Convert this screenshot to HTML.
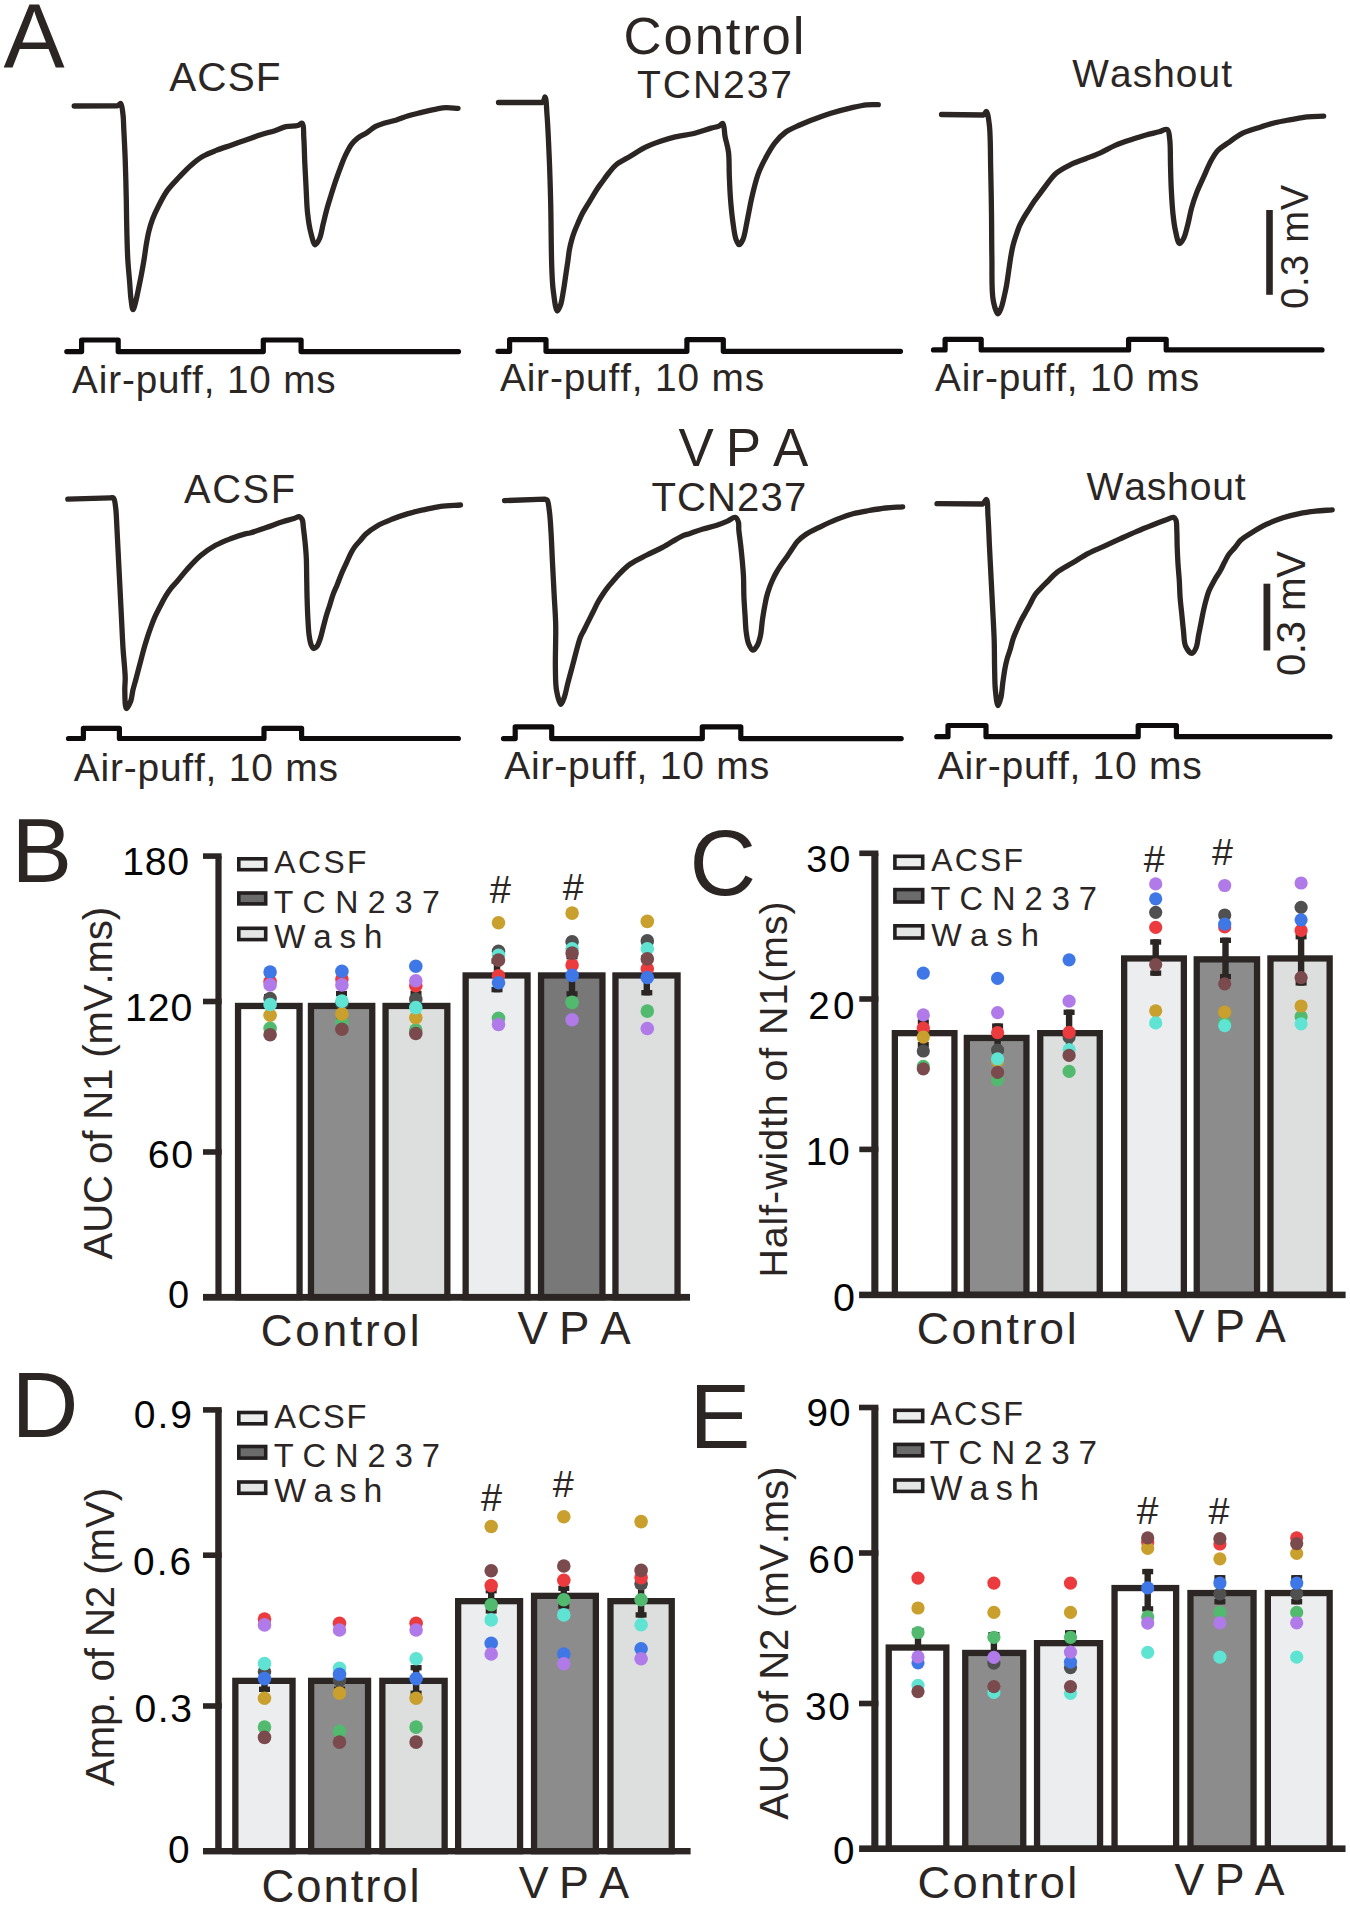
<!DOCTYPE html>
<html><head><meta charset="utf-8"><title>Figure</title>
<style>
html,body{margin:0;padding:0;background:#ffffff;}
svg{display:block;}
text{font-family:"Liberation Sans",sans-serif;font-kerning:none;}
</style></head><body>
<svg width="1350" height="1906" viewBox="0 0 1350 1906">
<rect width="1350" height="1906" fill="#ffffff"/>
<text x="3.52" y="67.00" font-size="91.72" letter-spacing="0.000" fill="#2b2624" >A</text>
<text x="623.62" y="54.30" font-size="52.70" letter-spacing="1.834" fill="#2b2624" >Control</text>
<text x="637.12" y="97.90" font-size="39.10" letter-spacing="1.871" fill="#2b2624" >TCN237</text>
<text x="169.22" y="90.80" font-size="40.53" letter-spacing="1.103" fill="#2b2624" >ACSF</text>
<text x="1072.23" y="87.30" font-size="38.81" letter-spacing="1.117" fill="#2b2624" >Washout</text>
<text x="678.47" y="466.00" font-size="52.91" letter-spacing="12.034" fill="#2b2624" >VPA</text>
<text x="183.92" y="502.90" font-size="39.81" letter-spacing="1.696" fill="#2b2624" >ACSF</text>
<text x="651.40" y="510.70" font-size="40.10" letter-spacing="1.119" fill="#2b2624" >TCN237</text>
<text x="1086.53" y="499.90" font-size="39.10" letter-spacing="0.810" fill="#2b2624" >Washout</text>
<text x="72.12" y="393.30" font-size="38.67" letter-spacing="0.875" fill="#2b2624" >Air-puff, 10 ms</text>
<text x="499.92" y="391.00" font-size="38.81" letter-spacing="0.859" fill="#2b2624" >Air-puff, 10 ms</text>
<text x="934.92" y="391.00" font-size="38.81" letter-spacing="0.859" fill="#2b2624" >Air-puff, 10 ms</text>
<text x="73.72" y="780.60" font-size="38.95" letter-spacing="0.793" fill="#2b2624" >Air-puff, 10 ms</text>
<text x="504.22" y="779.40" font-size="39.10" letter-spacing="0.777" fill="#2b2624" >Air-puff, 10 ms</text>
<text x="937.82" y="779.40" font-size="39.10" letter-spacing="0.712" fill="#2b2624" >Air-puff, 10 ms</text>
<path d="M66.8,351.6 H81.6 V340 H118.2 V351.6 H263.3 V340 H301.1 V351.6 H458.5" fill="none" stroke="#0d0b0b" stroke-width="5.2" stroke-linejoin="round" stroke-linecap="round"/>
<path d="M498,351.3 H509.6 V339.6 H546 V351.3 H686.9 V339.6 H723.3 V351.3 H900.5" fill="none" stroke="#0d0b0b" stroke-width="5.2" stroke-linejoin="round" stroke-linecap="round"/>
<path d="M933.5,349.9 H945.1 V339.3 H981.2 V349.9 H1128.6 V339.3 H1166.2 V349.9 H1322" fill="none" stroke="#0d0b0b" stroke-width="5.2" stroke-linejoin="round" stroke-linecap="round"/>
<path d="M68.5,738.5 H83.4 V728.3 H119.4 V738.5 H264 V728.3 H301.6 V738.5 H458.4" fill="none" stroke="#0d0b0b" stroke-width="5.2" stroke-linejoin="round" stroke-linecap="round"/>
<path d="M503.5,738.6 H515.2 V726.8 H551.7 V738.6 H702.3 V726.8 H740.8 V738.6 H901.2" fill="none" stroke="#0d0b0b" stroke-width="5.2" stroke-linejoin="round" stroke-linecap="round"/>
<path d="M936.8,736.7 H948 V725.5 H986 V736.7 H1138.2 V725.5 H1176.4 V736.7 H1330" fill="none" stroke="#0d0b0b" stroke-width="5.2" stroke-linejoin="round" stroke-linecap="round"/>
<path d="M74.20,106.00 L117.50,105.80 C119.33,105.21 119.86,103.17 120.70,103.50 C122.12,104.05 122.48,110.61 123.00,114.60 C123.59,119.16 123.51,123.61 123.80,129.40 C124.22,137.63 124.80,148.56 125.20,159.30 C125.66,171.82 126.03,187.51 126.30,200.00 C126.53,210.65 126.55,219.73 126.80,229.60 C127.05,239.49 127.27,250.12 127.80,259.30 C128.26,267.24 129.03,274.44 129.60,281.50 C130.12,287.95 130.38,294.85 131.10,300.00 C131.62,303.74 132.19,309.54 133.00,309.60 C133.73,309.65 134.79,305.05 135.60,302.20 C136.67,298.44 137.54,293.46 138.50,288.90 C139.51,284.08 140.56,278.96 141.50,274.00 C142.43,269.09 143.30,264.22 144.10,259.30 C144.90,254.36 145.47,249.22 146.30,244.40 C147.08,239.83 147.82,235.40 148.90,231.10 C149.94,226.94 151.07,223.06 152.60,219.00 C154.23,214.69 156.21,210.48 158.50,206.00 C161.06,200.98 163.93,195.24 167.40,190.40 C170.87,185.57 175.28,181.27 179.30,177.00 C183.18,172.88 187.03,168.73 191.10,165.20 C194.94,161.87 198.78,158.77 203.00,156.30 C207.18,153.85 211.71,152.22 216.30,150.40 C221.07,148.51 226.17,146.93 231.10,145.20 C236.03,143.47 240.97,141.73 245.90,140.00 C250.83,138.27 255.74,136.40 260.70,134.80 C265.64,133.20 271.11,131.87 275.60,130.40 C279.37,129.17 282.29,127.52 285.90,126.70 C289.67,125.85 294.83,126.35 297.80,125.50 C299.72,124.95 301.25,122.72 302.30,123.30 C304.10,124.30 303.41,132.30 303.80,137.80 C304.32,145.04 304.42,154.60 304.80,163.00 C305.18,171.40 305.63,179.80 306.10,188.20 C306.57,196.60 306.73,205.64 307.60,213.40 C308.35,220.15 309.25,226.62 310.70,232.20 C311.91,236.88 313.45,244.57 315.20,244.80 C316.52,244.98 318.38,241.19 319.60,238.50 C321.33,234.67 322.05,228.43 323.30,223.40 C324.55,218.36 325.78,213.09 327.10,208.30 C328.32,203.90 329.57,199.99 330.90,195.70 C332.30,191.20 333.74,186.49 335.30,181.90 C336.87,177.26 338.58,172.50 340.30,168.00 C341.95,163.68 343.47,159.43 345.40,155.40 C347.28,151.47 349.36,147.19 351.70,144.10 C353.64,141.53 355.59,139.65 358.00,137.80 C360.58,135.82 363.91,134.57 366.80,132.70 C369.78,130.78 372.44,128.07 375.60,126.40 C378.75,124.74 382.30,123.74 385.70,122.70 C389.04,121.68 392.28,121.26 395.80,120.20 C399.80,118.99 404.18,116.97 408.40,115.70 C412.54,114.45 416.45,113.67 420.90,112.60 C425.99,111.38 432.66,109.65 437.30,108.80 C440.67,108.18 442.93,107.71 446.10,107.60 C449.78,107.47 454.10,108.13 458.10,108.40" fill="none" stroke="#2b2624" stroke-width="5.3" stroke-linejoin="round" stroke-linecap="round"/>
<path d="M498.50,102.50 L542.30,102.50 C544.47,101.17 544.37,96.87 545.10,97.00 C546.33,97.23 546.42,107.39 547.00,114.60 C547.91,126.04 548.68,144.27 549.30,159.10 C549.92,173.91 550.31,187.31 550.70,203.50 C551.17,223.04 551.16,252.32 551.80,268.20 C552.17,277.47 552.27,283.00 553.20,290.20 C554.12,297.26 555.58,310.74 557.30,311.00 C558.28,311.15 559.68,307.46 560.60,304.90 C561.95,301.14 562.65,295.11 563.50,290.20 C564.35,285.31 564.97,280.40 565.70,275.50 C566.43,270.60 567.25,265.35 567.90,260.80 C568.46,256.87 568.76,253.33 569.40,249.80 C570.01,246.48 570.73,243.31 571.60,240.20 C572.44,237.18 573.41,234.31 574.50,231.40 C575.61,228.44 576.89,225.58 578.20,222.60 C579.58,219.48 581.05,216.03 582.60,213.10 C584.00,210.44 585.53,208.16 587.00,205.70 C588.46,203.26 589.82,201.00 591.40,198.40 C593.22,195.42 595.35,191.75 597.30,188.80 C599.04,186.17 600.73,183.94 602.50,181.50 C604.30,179.01 605.94,176.57 608.00,174.00 C610.34,171.09 612.60,167.76 615.90,165.00 C619.87,161.69 625.76,159.06 630.70,156.10 C635.66,153.13 640.54,149.70 645.60,147.20 C650.45,144.80 655.43,143.03 660.40,141.30 C665.30,139.60 669.84,138.21 675.20,136.90 C681.42,135.38 689.31,134.59 695.60,133.00 C701.17,131.59 706.80,129.33 711.10,128.10 C714.13,127.23 716.81,127.05 718.90,126.10 C720.50,125.37 721.81,122.99 722.80,123.40 C724.46,124.10 724.20,132.11 725.10,136.70 C726.08,141.68 727.78,146.47 728.50,152.20 C729.37,159.14 728.97,167.73 729.30,175.50 C729.63,183.29 729.90,191.12 730.50,198.90 C731.10,206.68 731.89,215.05 732.90,222.20 C733.77,228.36 734.53,235.28 736.00,239.30 C736.88,241.70 737.96,244.64 739.10,244.70 C740.28,244.76 741.89,241.75 743.00,239.30 C744.80,235.32 745.59,228.35 746.90,222.20 C748.42,215.04 749.86,206.22 751.50,198.90 C752.98,192.30 754.70,185.33 756.20,180.20 C757.27,176.54 757.87,174.34 759.30,170.90 C761.20,166.31 764.38,160.14 767.10,155.30 C769.60,150.86 771.84,146.74 774.90,142.90 C778.04,138.96 781.67,134.98 785.80,132.00 C789.96,129.00 794.97,127.17 799.80,125.00 C804.79,122.76 810.10,120.75 815.30,118.80 C820.47,116.85 825.33,115.02 830.90,113.30 C837.16,111.36 844.79,109.37 851.10,107.90 C856.59,106.62 861.77,105.32 866.60,104.80 C870.75,104.35 874.40,104.67 878.30,104.60" fill="none" stroke="#2b2624" stroke-width="5.3" stroke-linejoin="round" stroke-linecap="round"/>
<path d="M941.50,114.50 L983.30,115.00 C985.20,114.14 985.45,111.29 986.30,111.50 C987.75,111.86 988.56,118.89 989.30,124.60 C990.64,134.99 990.33,154.27 990.70,169.10 C991.07,183.91 991.30,198.69 991.50,213.50 C991.70,228.32 991.61,243.37 991.90,258.00 C992.18,272.25 991.31,290.12 993.20,300.20 C994.30,306.09 996.41,313.68 998.00,313.80 C999.11,313.88 1000.35,310.03 1001.30,307.60 C1002.51,304.49 1003.33,300.20 1004.20,296.50 C1005.06,292.84 1005.79,289.44 1006.50,285.50 C1007.31,280.97 1007.97,275.70 1008.70,270.80 C1009.43,265.90 1010.11,260.64 1010.90,256.10 C1011.59,252.16 1012.22,248.61 1013.10,245.10 C1013.93,241.80 1014.93,238.82 1016.00,235.60 C1017.12,232.22 1018.28,228.48 1019.70,225.30 C1021.01,222.38 1022.53,219.88 1024.10,217.20 C1025.70,214.47 1027.49,211.80 1029.20,209.10 C1030.92,206.40 1032.70,203.46 1034.40,201.00 C1035.89,198.85 1037.26,197.16 1038.80,195.10 C1040.48,192.84 1041.95,190.76 1044.10,188.00 C1047.22,183.99 1051.36,177.44 1055.90,173.50 C1060.27,169.71 1065.65,167.10 1070.70,164.60 C1075.56,162.20 1080.64,160.67 1085.60,158.70 C1090.54,156.74 1095.51,154.99 1100.40,152.80 C1105.38,150.57 1109.97,147.62 1115.20,145.40 C1120.79,143.02 1127.50,140.93 1133.00,139.10 C1137.69,137.54 1141.72,136.22 1146.10,135.00 C1150.42,133.79 1155.27,132.81 1159.10,131.80 C1162.15,131.00 1165.52,128.47 1167.30,129.50 C1169.21,130.61 1169.14,135.08 1169.70,139.10 C1170.61,145.63 1170.23,156.65 1170.50,165.20 C1170.76,173.47 1170.88,181.46 1171.30,189.60 C1171.72,197.76 1172.21,206.78 1173.00,214.10 C1173.65,220.10 1174.24,225.31 1175.40,230.40 C1176.46,235.05 1177.76,243.16 1179.50,243.50 C1180.69,243.73 1182.42,240.71 1183.60,238.50 C1185.32,235.30 1186.34,230.20 1187.60,225.50 C1189.06,220.03 1190.12,213.24 1191.70,207.60 C1193.15,202.42 1194.72,197.76 1196.60,192.90 C1198.51,187.95 1200.79,183.33 1203.10,178.20 C1205.66,172.52 1208.53,165.29 1211.30,160.30 C1213.44,156.45 1215.12,153.33 1217.80,150.50 C1220.53,147.61 1223.97,145.77 1227.60,143.20 C1231.95,140.12 1237.02,135.99 1242.20,133.40 C1247.33,130.83 1253.05,129.47 1258.50,127.70 C1263.91,125.94 1269.33,124.15 1274.80,122.80 C1280.20,121.46 1285.66,120.60 1291.10,119.60 C1296.53,118.60 1301.95,117.37 1307.40,116.80 C1312.81,116.24 1318.27,116.40 1323.70,116.20" fill="none" stroke="#2b2624" stroke-width="5.3" stroke-linejoin="round" stroke-linecap="round"/>
<path d="M67.80,499.10 L110.40,497.80 C112.03,497.83 112.70,497.32 113.50,498.00 C114.90,499.19 115.06,503.44 115.60,507.20 C116.43,512.97 116.55,521.46 117.00,529.40 C117.52,538.58 118.00,549.21 118.50,559.10 C119.00,568.98 119.50,578.83 120.00,588.70 C120.50,598.57 121.00,608.42 121.50,618.30 C122.00,628.19 122.38,638.11 123.00,648.00 C123.62,657.88 125.03,669.81 125.20,677.60 C125.31,682.68 124.69,685.61 124.80,690.20 C124.94,695.74 124.82,708.15 126.30,708.50 C127.31,708.74 129.62,703.99 130.70,701.20 C131.94,698.00 132.04,693.85 132.90,690.20 C133.77,686.52 134.92,682.87 135.90,679.20 C136.88,675.54 137.84,671.88 138.80,668.20 C139.77,664.51 140.72,660.79 141.70,657.10 C142.68,653.42 143.68,649.62 144.70,646.10 C145.65,642.81 146.60,639.70 147.60,636.60 C148.57,633.60 149.46,630.89 150.60,627.80 C151.89,624.30 153.40,620.29 155.00,616.70 C156.57,613.19 158.38,609.84 160.10,606.50 C161.78,603.24 163.35,599.98 165.20,596.90 C167.02,593.85 169.04,590.76 171.10,588.10 C172.99,585.67 174.78,584.07 177.00,581.50 C180.01,578.02 183.63,573.17 187.40,569.00 C191.47,564.50 195.94,559.49 200.70,555.50 C205.35,551.61 210.51,548.13 215.60,545.30 C220.42,542.62 225.42,540.71 230.40,538.80 C235.29,536.92 241.60,534.83 245.20,533.90 C247.22,533.38 247.95,533.54 250.00,533.00 C253.85,532.00 260.87,529.36 266.30,527.50 C271.74,525.63 277.63,523.39 282.60,521.80 C286.72,520.48 290.93,519.49 294.00,518.50 C296.11,517.82 297.88,516.28 299.30,516.60 C300.52,516.87 301.52,518.13 302.20,519.50 C303.18,521.45 302.99,524.68 303.40,527.80 C303.92,531.82 304.53,536.81 305.00,541.60 C305.51,546.78 306.01,552.08 306.30,557.80 C306.62,564.20 306.57,571.41 306.70,578.20 C306.83,584.97 306.90,591.73 307.10,598.50 C307.30,605.27 307.54,612.41 307.90,618.80 C308.22,624.53 308.44,630.39 309.10,635.10 C309.61,638.77 310.09,642.40 311.10,644.80 C311.78,646.41 312.60,648.29 313.60,648.50 C314.52,648.70 315.86,647.58 316.80,646.50 C318.18,644.92 319.11,641.91 320.10,639.10 C321.33,635.60 322.22,631.04 323.30,627.00 C324.39,622.94 325.46,618.63 326.60,614.80 C327.63,611.34 328.74,608.33 329.80,605.00 C330.90,601.54 331.85,597.83 333.10,594.40 C334.32,591.06 335.80,588.13 337.20,584.70 C338.76,580.88 340.33,576.40 342.00,572.50 C343.57,568.82 345.34,565.28 346.90,561.90 C348.33,558.80 349.56,555.69 351.00,553.00 C352.27,550.62 353.45,548.60 355.00,546.50 C356.65,544.26 358.88,542.10 360.70,540.00 C362.40,538.04 363.48,536.25 365.60,534.30 C368.51,531.62 372.90,528.44 377.10,526.00 C381.58,523.40 386.73,521.34 391.80,519.30 C397.05,517.19 402.63,515.22 408.10,513.60 C413.50,512.00 418.95,510.82 424.40,509.60 C429.82,508.39 434.98,507.06 440.70,506.30 C446.95,505.47 453.90,505.43 460.50,505.00" fill="none" stroke="#2b2624" stroke-width="5.3" stroke-linejoin="round" stroke-linecap="round"/>
<path d="M504.50,500.60 L544.80,499.20 C546.07,499.39 546.46,499.27 547.10,500.00 C548.49,501.59 548.79,507.03 549.40,511.40 C550.21,517.18 550.52,524.21 551.00,531.70 C551.59,540.96 551.98,552.43 552.50,562.80 C553.02,573.17 553.57,583.53 554.10,593.90 C554.63,604.27 555.45,613.78 555.70,625.00 C555.99,638.22 555.14,656.21 555.40,668.20 C555.58,676.76 555.35,683.74 556.50,690.20 C557.44,695.49 559.39,704.18 560.90,704.30 C561.98,704.38 563.20,700.33 564.20,697.60 C565.63,693.71 566.71,687.45 567.90,682.90 C568.93,678.94 569.91,675.49 570.90,671.80 C571.88,668.13 572.83,664.47 573.80,660.80 C574.77,657.13 575.64,653.58 576.70,649.80 C577.83,645.76 578.99,640.86 580.40,637.30 C581.52,634.48 582.82,632.56 584.10,630.00 C585.51,627.18 587.03,624.06 588.50,621.10 C589.96,618.16 591.38,615.35 592.90,612.30 C594.54,609.00 596.28,605.10 598.00,602.00 C599.49,599.32 600.86,597.17 602.50,594.70 C604.27,592.04 606.45,588.95 608.30,586.60 C609.82,584.67 611.08,583.37 612.70,581.50 C614.70,579.19 616.80,576.44 619.40,573.80 C622.51,570.64 626.09,566.97 630.30,564.00 C635.08,560.62 641.38,557.83 646.90,555.00 C652.28,552.24 657.50,550.14 663.00,547.20 C669.04,543.97 676.52,538.61 681.60,536.30 C684.86,534.82 686.90,534.55 690.00,533.50 C693.87,532.19 698.63,530.34 703.00,529.00 C707.33,527.67 711.92,526.86 716.10,525.50 C720.07,524.21 724.10,522.59 727.50,521.10 C730.35,519.85 733.33,516.81 735.20,517.30 C736.73,517.70 737.77,520.14 738.40,522.00 C739.13,524.17 738.54,526.69 738.80,529.70 C739.17,534.02 740.12,540.16 740.70,545.40 C741.28,550.63 741.83,555.86 742.30,561.10 C742.77,566.36 743.23,571.35 743.50,576.90 C743.80,583.08 743.63,589.96 743.90,596.50 C744.17,603.06 744.70,610.00 745.10,616.20 C745.46,621.76 745.54,627.14 746.20,632.00 C746.78,636.24 747.25,640.57 748.60,643.80 C749.68,646.38 751.39,650.09 752.90,650.20 C754.30,650.30 756.11,647.35 757.30,645.30 C758.75,642.79 759.59,639.48 760.40,635.90 C761.42,631.38 761.70,625.07 762.40,620.20 C763.01,615.95 763.58,612.25 764.30,608.30 C765.02,604.35 765.81,600.01 766.70,596.50 C767.44,593.61 768.19,591.29 769.10,588.70 C770.02,586.06 771.05,583.41 772.20,580.80 C773.38,578.14 774.67,575.49 776.10,572.90 C777.56,570.26 779.14,567.74 780.90,565.10 C782.81,562.24 785.28,559.17 787.20,556.40 C788.91,553.93 790.25,551.71 791.90,549.30 C793.64,546.75 795.20,543.90 797.40,541.50 C799.75,538.94 802.40,536.72 805.70,534.50 C809.78,531.76 815.34,529.27 820.40,526.80 C825.66,524.23 831.22,521.60 836.70,519.40 C842.09,517.24 847.51,515.19 853.00,513.70 C858.38,512.24 863.86,511.45 869.30,510.50 C874.72,509.55 880.09,508.60 885.60,508.00 C891.22,507.39 897.00,507.27 902.70,506.90" fill="none" stroke="#2b2624" stroke-width="5.3" stroke-linejoin="round" stroke-linecap="round"/>
<path d="M937.00,503.70 L982.50,504.00 C984.91,502.91 985.47,499.20 986.40,499.50 C987.96,500.00 987.54,509.70 988.00,516.10 C988.63,524.85 988.98,536.83 989.50,547.20 C990.02,557.57 990.57,567.93 991.10,578.30 C991.63,588.67 992.18,599.03 992.70,609.40 C993.22,619.77 993.88,630.43 994.20,640.50 C994.50,650.00 994.38,659.50 994.60,668.20 C994.80,675.96 994.72,683.54 995.40,690.20 C995.97,695.81 996.88,705.50 998.00,705.60 C998.83,705.67 1000.14,700.72 1000.90,697.60 C1001.90,693.49 1002.12,687.80 1002.80,682.90 C1003.48,678.00 1004.17,672.57 1005.00,668.20 C1005.67,664.65 1006.33,661.71 1007.20,658.60 C1008.04,655.58 1009.16,652.91 1010.10,649.80 C1011.14,646.35 1011.94,642.23 1013.10,638.80 C1014.16,635.67 1015.41,632.98 1016.70,630.00 C1018.06,626.86 1019.56,623.44 1021.10,620.40 C1022.54,617.56 1024.11,615.00 1025.60,612.30 C1027.08,609.60 1028.48,607.01 1030.00,604.20 C1031.64,601.16 1033.15,597.48 1035.10,594.70 C1036.86,592.18 1038.95,590.27 1041.00,588.10 C1043.11,585.87 1045.19,583.89 1047.60,581.50 C1050.49,578.64 1053.42,575.02 1057.20,572.10 C1061.59,568.71 1067.53,565.91 1072.70,562.80 C1077.89,559.68 1083.03,556.17 1088.30,553.40 C1093.40,550.73 1098.58,548.79 1103.80,546.40 C1109.15,543.96 1114.58,541.37 1120.00,538.90 C1125.42,536.43 1130.85,533.92 1136.30,531.60 C1141.71,529.29 1147.46,527.01 1152.60,525.00 C1157.17,523.22 1161.81,521.47 1165.60,520.10 C1168.52,519.04 1171.61,516.97 1173.40,517.40 C1174.59,517.68 1175.31,518.70 1175.90,520.00 C1176.89,522.18 1176.59,526.37 1176.80,530.20 C1177.07,535.10 1177.00,541.40 1177.20,547.00 C1177.40,552.60 1177.65,558.20 1178.00,563.80 C1178.35,569.40 1178.95,575.00 1179.30,580.60 C1179.65,586.20 1179.68,591.81 1180.10,597.40 C1180.52,603.01 1181.23,608.60 1181.80,614.20 C1182.37,619.80 1182.85,625.56 1183.50,631.00 C1184.12,636.17 1183.82,642.17 1185.60,646.10 C1187.02,649.23 1190.05,653.47 1191.90,653.40 C1193.48,653.34 1195.03,650.12 1196.10,647.70 C1197.54,644.44 1197.77,639.30 1198.60,635.10 C1199.43,630.90 1200.27,626.69 1201.10,622.50 C1201.93,618.32 1202.72,613.94 1203.60,610.00 C1204.40,606.44 1205.21,603.10 1206.10,599.90 C1206.92,596.96 1207.66,594.10 1208.70,591.50 C1209.66,589.10 1210.80,587.09 1212.00,584.80 C1213.29,582.33 1214.77,579.63 1216.20,577.20 C1217.57,574.88 1219.06,572.89 1220.40,570.50 C1221.87,567.89 1223.17,564.82 1224.60,562.10 C1225.97,559.49 1227.13,556.87 1228.80,554.50 C1230.49,552.10 1232.77,550.12 1234.70,547.80 C1236.70,545.40 1238.18,542.58 1240.60,540.30 C1243.30,537.75 1246.66,535.86 1250.40,533.50 C1255.09,530.54 1261.17,526.86 1266.70,524.20 C1272.05,521.62 1277.51,519.48 1283.00,517.70 C1288.38,515.96 1293.84,514.69 1299.30,513.60 C1304.71,512.52 1310.13,511.83 1315.60,511.20 C1321.10,510.56 1326.67,510.27 1332.20,509.80" fill="none" stroke="#2b2624" stroke-width="5.3" stroke-linejoin="round" stroke-linecap="round"/>
<rect x="1266.2" y="210" width="6.6" height="84.80000000000001" fill="#2b2624"/>
<rect x="1263.5" y="583.7" width="6.8" height="66.79999999999995" fill="#2b2624"/>
<text transform="translate(1308.20,308.99) rotate(-90)" x="0" y="0" font-size="38.24" letter-spacing="0.604" fill="#2b2624" >0.3 mV</text>
<text transform="translate(1305.20,676.08) rotate(-90)" x="0" y="0" font-size="40.39" letter-spacing="-0.558" fill="#2b2624" >0.3 mV</text>
<rect x="238.05" y="1005.95" width="61.50" height="291.35" fill="#ffffff" stroke="#2b2624" stroke-width="6.3"/>
<rect x="310.95" y="1005.95" width="61.30" height="291.35" fill="#8c8c8c" stroke="#2b2624" stroke-width="6.3"/>
<rect x="385.55" y="1005.95" width="61.80" height="291.35" fill="#dddfde" stroke="#2b2624" stroke-width="6.3"/>
<rect x="465.65" y="975.45" width="61.90" height="321.85" fill="#ecedef" stroke="#2b2624" stroke-width="6.3"/>
<rect x="541.05" y="975.45" width="61.40" height="321.85" fill="#787878" stroke="#2b2624" stroke-width="6.3"/>
<rect x="615.45" y="975.45" width="62.10" height="321.85" fill="#dddfde" stroke="#2b2624" stroke-width="6.3"/>
<rect x="215.4" y="856.1" width="6.20" height="441.20" fill="#2b2624"/>
<rect x="203" y="1293.90" width="487.00" height="6.8" fill="#2b2624"/>
<rect x="203" y="853.30" width="18.60" height="5.6" fill="#2b2624"/>
<rect x="203" y="998.70" width="18.60" height="5.6" fill="#2b2624"/>
<rect x="203" y="1149.20" width="18.60" height="5.6" fill="#2b2624"/>
<rect x="266.30" y="994.00" width="6.4" height="24.00" fill="#2b2624"/>
<rect x="264.00" y="994.00" width="11" height="5.4" fill="#2b2624"/>
<rect x="264.00" y="1012.60" width="11" height="5.4" fill="#2b2624"/>
<rect x="338.30" y="990.90" width="6.4" height="29.80" fill="#2b2624"/>
<rect x="336.00" y="990.90" width="11" height="5.4" fill="#2b2624"/>
<rect x="336.00" y="1015.30" width="11" height="5.4" fill="#2b2624"/>
<rect x="412.80" y="990.90" width="6.4" height="29.80" fill="#2b2624"/>
<rect x="410.50" y="990.90" width="11" height="5.4" fill="#2b2624"/>
<rect x="410.50" y="1015.30" width="11" height="5.4" fill="#2b2624"/>
<rect x="493.80" y="958.30" width="6.4" height="34.00" fill="#2b2624"/>
<rect x="491.50" y="958.30" width="11" height="5.4" fill="#2b2624"/>
<rect x="491.50" y="986.90" width="11" height="5.4" fill="#2b2624"/>
<rect x="568.80" y="954.00" width="6.4" height="42.60" fill="#2b2624"/>
<rect x="566.50" y="954.00" width="11" height="5.4" fill="#2b2624"/>
<rect x="566.50" y="991.20" width="11" height="5.4" fill="#2b2624"/>
<rect x="643.60" y="955.00" width="6.4" height="40.40" fill="#2b2624"/>
<rect x="641.30" y="955.00" width="11" height="5.4" fill="#2b2624"/>
<rect x="641.30" y="990.00" width="11" height="5.4" fill="#2b2624"/>
<circle cx="270.1" cy="998.6" r="6.8" fill="#505050"/>
<circle cx="270.1" cy="981.5" r="6.8" fill="#ec3b3f"/>
<circle cx="270.1" cy="1028.4" r="6.8" fill="#52ba6e"/>
<circle cx="270.1" cy="1015.2" r="6.8" fill="#c9a02d"/>
<circle cx="270.1" cy="1004.5" r="6.8" fill="#5fe3d3"/>
<circle cx="270.1" cy="972.1" r="6.8" fill="#3f78e6"/>
<circle cx="270.1" cy="984.9" r="6.8" fill="#b07ae8"/>
<circle cx="270.1" cy="1034.7" r="6.8" fill="#7a4a4c"/>
<circle cx="341.9" cy="1003.0" r="6.8" fill="#505050"/>
<circle cx="341.9" cy="979.0" r="6.8" fill="#ec3b3f"/>
<circle cx="341.9" cy="1022.4" r="6.8" fill="#52ba6e"/>
<circle cx="341.9" cy="1013.9" r="6.8" fill="#c9a02d"/>
<circle cx="341.9" cy="1001.1" r="6.8" fill="#5fe3d3"/>
<circle cx="341.9" cy="971.3" r="6.8" fill="#3f78e6"/>
<circle cx="341.9" cy="984.9" r="6.8" fill="#b07ae8"/>
<circle cx="341.9" cy="1029.2" r="6.8" fill="#7a4a4c"/>
<circle cx="415.8" cy="999.4" r="6.8" fill="#505050"/>
<circle cx="415.8" cy="985.8" r="6.8" fill="#ec3b3f"/>
<circle cx="415.8" cy="1030.0" r="6.8" fill="#52ba6e"/>
<circle cx="415.8" cy="1017.8" r="6.8" fill="#c9a02d"/>
<circle cx="415.8" cy="1007.6" r="6.8" fill="#5fe3d3"/>
<circle cx="415.8" cy="966.2" r="6.8" fill="#3f78e6"/>
<circle cx="415.8" cy="980.7" r="6.8" fill="#b07ae8"/>
<circle cx="415.8" cy="1033.5" r="6.8" fill="#7a4a4c"/>
<circle cx="498.5" cy="951.4" r="6.8" fill="#505050"/>
<circle cx="498.5" cy="975.8" r="6.8" fill="#ec3b3f"/>
<circle cx="498.5" cy="1018.4" r="6.8" fill="#52ba6e"/>
<circle cx="498.5" cy="922.7" r="6.8" fill="#c9a02d"/>
<circle cx="498.5" cy="955.4" r="6.8" fill="#5fe3d3"/>
<circle cx="498.5" cy="982.7" r="6.8" fill="#3f78e6"/>
<circle cx="498.5" cy="1024.5" r="6.8" fill="#b07ae8"/>
<circle cx="498.5" cy="960.1" r="6.8" fill="#7a4a4c"/>
<circle cx="572.1" cy="941.8" r="6.8" fill="#505050"/>
<circle cx="572.1" cy="965.0" r="6.8" fill="#ec3b3f"/>
<circle cx="572.1" cy="1002.4" r="6.8" fill="#52ba6e"/>
<circle cx="572.1" cy="913.1" r="6.8" fill="#c9a02d"/>
<circle cx="572.1" cy="948.8" r="6.8" fill="#5fe3d3"/>
<circle cx="572.1" cy="975.4" r="6.8" fill="#3f78e6"/>
<circle cx="572.1" cy="1019.8" r="6.8" fill="#b07ae8"/>
<circle cx="572.1" cy="953.1" r="6.8" fill="#7a4a4c"/>
<circle cx="647.3" cy="940.9" r="6.8" fill="#505050"/>
<circle cx="647.3" cy="968.8" r="6.8" fill="#ec3b3f"/>
<circle cx="647.3" cy="1011.1" r="6.8" fill="#52ba6e"/>
<circle cx="647.3" cy="921.4" r="6.8" fill="#c9a02d"/>
<circle cx="647.3" cy="948.8" r="6.8" fill="#5fe3d3"/>
<circle cx="647.3" cy="977.5" r="6.8" fill="#3f78e6"/>
<circle cx="647.3" cy="1028.5" r="6.8" fill="#b07ae8"/>
<circle cx="647.3" cy="958.9" r="6.8" fill="#7a4a4c"/>
<rect x="238.80" y="858.80" width="26.90" height="10.90" fill="#eceeee" stroke="#231f20" stroke-width="3.6"/>
<rect x="238.80" y="893.00" width="26.90" height="10.90" fill="#6b6b6b" stroke="#231f20" stroke-width="3.6"/>
<rect x="238.80" y="928.30" width="26.90" height="11.30" fill="#e4e6e6" stroke="#231f20" stroke-width="3.6"/>
<text x="274.34" y="872.90" font-size="31.79" letter-spacing="2.480" fill="#2b2624" >ACSF</text>
<text x="273.68" y="912.60" font-size="32.08" letter-spacing="9.356" fill="#2b2624" >TCN237</text>
<text x="274.25" y="948.20" font-size="33.14" letter-spacing="7.796" fill="#2b2624" >Wash</text>
<text x="11.55" y="881.50" font-size="90.84" letter-spacing="0.000" fill="#2b2624" >B</text>
<text x="122.31" y="874.60" font-size="39.24" letter-spacing="0.675" fill="#050505" >180</text>
<text x="125.11" y="1021.40" font-size="39.24" letter-spacing="0.925" fill="#050505" >120</text>
<text x="147.70" y="1167.70" font-size="39.38" letter-spacing="1.731" fill="#050505" >60</text>
<text x="168.12" y="1308.40" font-size="37.95" letter-spacing="0.000" fill="#050505" >0</text>
<text x="260.77" y="1346.30" font-size="43.97" letter-spacing="2.856" fill="#2b2624" >Control</text>
<text x="517.60" y="1344.40" font-size="45.64" letter-spacing="10.932" fill="#2b2624" >VPA</text>
<text transform="translate(111.50,1259.48) rotate(-90)" x="0" y="0" font-size="40.24" letter-spacing="-0.171" fill="#2b2624" >AUC of N1 (mV.ms)</text>
<text x="489.63" y="902.60" font-size="38.15" letter-spacing="0.000" fill="#2b2624" >#</text>
<text x="562.73" y="899.70" font-size="37.71" letter-spacing="0.000" fill="#2b2624" >#</text>
<rect x="894.85" y="1033.15" width="59.60" height="261.75" fill="#ffffff" stroke="#2b2624" stroke-width="6.3"/>
<rect x="966.85" y="1037.95" width="59.60" height="256.95" fill="#8c8c8c" stroke="#2b2624" stroke-width="6.3"/>
<rect x="1040.25" y="1033.15" width="59.50" height="261.75" fill="#dddfde" stroke="#2b2624" stroke-width="6.3"/>
<rect x="1124.15" y="958.45" width="59.70" height="336.45" fill="#ecedef" stroke="#2b2624" stroke-width="6.3"/>
<rect x="1196.75" y="959.35" width="60.30" height="335.55" fill="#8c8c8c" stroke="#2b2624" stroke-width="6.3"/>
<rect x="1270.45" y="958.45" width="59.20" height="336.45" fill="#dddfde" stroke="#2b2624" stroke-width="6.3"/>
<rect x="871.3" y="853.3" width="7.10" height="441.60" fill="#2b2624"/>
<rect x="859.1" y="1291.65" width="486.50" height="6.5" fill="#2b2624"/>
<rect x="859.3" y="850.50" width="19.10" height="5.6" fill="#2b2624"/>
<rect x="859.3" y="996.20" width="19.10" height="5.6" fill="#2b2624"/>
<rect x="859.3" y="1146.60" width="19.10" height="5.6" fill="#2b2624"/>
<rect x="920.10" y="1019.30" width="6.4" height="28.00" fill="#2b2624"/>
<rect x="917.80" y="1019.30" width="11" height="5.4" fill="#2b2624"/>
<rect x="917.80" y="1041.90" width="11" height="5.4" fill="#2b2624"/>
<rect x="994.40" y="1023.40" width="6.4" height="29.40" fill="#2b2624"/>
<rect x="992.10" y="1023.40" width="11" height="5.4" fill="#2b2624"/>
<rect x="992.10" y="1047.40" width="11" height="5.4" fill="#2b2624"/>
<rect x="1065.90" y="1009.60" width="6.4" height="47.40" fill="#2b2624"/>
<rect x="1063.60" y="1009.60" width="11" height="5.4" fill="#2b2624"/>
<rect x="1063.60" y="1051.60" width="11" height="5.4" fill="#2b2624"/>
<rect x="1152.50" y="939.30" width="6.4" height="36.50" fill="#2b2624"/>
<rect x="1150.20" y="939.30" width="11" height="5.4" fill="#2b2624"/>
<rect x="1150.20" y="970.40" width="11" height="5.4" fill="#2b2624"/>
<rect x="1222.30" y="937.60" width="6.4" height="41.70" fill="#2b2624"/>
<rect x="1220.00" y="937.60" width="11" height="5.4" fill="#2b2624"/>
<rect x="1220.00" y="973.90" width="11" height="5.4" fill="#2b2624"/>
<rect x="1297.90" y="934.00" width="6.4" height="51.60" fill="#2b2624"/>
<rect x="1295.60" y="934.00" width="11" height="5.4" fill="#2b2624"/>
<rect x="1295.60" y="980.20" width="11" height="5.4" fill="#2b2624"/>
<circle cx="923.3" cy="1051.0" r="6.6" fill="#505050"/>
<circle cx="923.3" cy="1028.2" r="6.6" fill="#ec3b3f"/>
<circle cx="923.3" cy="1066.4" r="6.6" fill="#52ba6e"/>
<circle cx="923.3" cy="1037.1" r="6.6" fill="#c9a02d"/>
<circle cx="923.3" cy="973.1" r="6.6" fill="#3f78e6"/>
<circle cx="923.3" cy="1014.9" r="6.6" fill="#b07ae8"/>
<circle cx="923.3" cy="1068.8" r="6.6" fill="#7a4a4c"/>
<circle cx="997.6" cy="1050.1" r="6.6" fill="#505050"/>
<circle cx="997.6" cy="1032.7" r="6.6" fill="#ec3b3f"/>
<circle cx="997.6" cy="1079.8" r="6.6" fill="#52ba6e"/>
<circle cx="997.6" cy="1061.0" r="6.6" fill="#c9a02d"/>
<circle cx="997.6" cy="1058.8" r="6.6" fill="#5fe3d3"/>
<circle cx="997.6" cy="978.4" r="6.6" fill="#3f78e6"/>
<circle cx="997.6" cy="1012.6" r="6.6" fill="#b07ae8"/>
<circle cx="997.6" cy="1072.3" r="6.6" fill="#7a4a4c"/>
<circle cx="1069.1" cy="1037.1" r="6.6" fill="#505050"/>
<circle cx="1069.1" cy="1032.3" r="6.6" fill="#ec3b3f"/>
<circle cx="1069.1" cy="1071.4" r="6.6" fill="#52ba6e"/>
<circle cx="1069.1" cy="1049.6" r="6.6" fill="#5fe3d3"/>
<circle cx="1069.1" cy="959.8" r="6.6" fill="#3f78e6"/>
<circle cx="1069.1" cy="1001.2" r="6.6" fill="#b07ae8"/>
<circle cx="1069.1" cy="1055.4" r="6.6" fill="#7a4a4c"/>
<circle cx="1155.7" cy="912.3" r="6.6" fill="#505050"/>
<circle cx="1155.7" cy="927.4" r="6.6" fill="#ec3b3f"/>
<circle cx="1155.7" cy="1010.8" r="6.6" fill="#c9a02d"/>
<circle cx="1155.7" cy="1022.9" r="6.6" fill="#5fe3d3"/>
<circle cx="1155.7" cy="898.8" r="6.6" fill="#3f78e6"/>
<circle cx="1155.7" cy="883.9" r="6.6" fill="#b07ae8"/>
<circle cx="1155.7" cy="964.6" r="6.6" fill="#7a4a4c"/>
<circle cx="1224.7" cy="915.0" r="6.6" fill="#505050"/>
<circle cx="1224.7" cy="926.9" r="6.6" fill="#ec3b3f"/>
<circle cx="1224.7" cy="1022.9" r="6.6" fill="#52ba6e"/>
<circle cx="1224.7" cy="1012.2" r="6.6" fill="#c9a02d"/>
<circle cx="1224.7" cy="1025.6" r="6.6" fill="#5fe3d3"/>
<circle cx="1224.7" cy="924.2" r="6.6" fill="#3f78e6"/>
<circle cx="1224.7" cy="885.5" r="6.6" fill="#b07ae8"/>
<circle cx="1224.7" cy="983.8" r="6.6" fill="#7a4a4c"/>
<circle cx="1301.1" cy="907.3" r="6.6" fill="#505050"/>
<circle cx="1301.1" cy="930.4" r="6.6" fill="#ec3b3f"/>
<circle cx="1301.1" cy="1016.7" r="6.6" fill="#52ba6e"/>
<circle cx="1301.1" cy="1006.0" r="6.6" fill="#c9a02d"/>
<circle cx="1301.1" cy="1023.8" r="6.6" fill="#5fe3d3"/>
<circle cx="1301.1" cy="919.8" r="6.6" fill="#3f78e6"/>
<circle cx="1301.1" cy="883.0" r="6.6" fill="#b07ae8"/>
<circle cx="1301.1" cy="977.6" r="6.6" fill="#7a4a4c"/>
<rect x="894.90" y="856.30" width="27.80" height="11.80" fill="#eceeee" stroke="#231f20" stroke-width="3.6"/>
<rect x="894.90" y="889.60" width="27.80" height="12.40" fill="#6b6b6b" stroke="#231f20" stroke-width="3.6"/>
<rect x="894.90" y="925.80" width="27.80" height="12.20" fill="#e4e6e6" stroke="#231f20" stroke-width="3.6"/>
<text x="931.24" y="871.00" font-size="31.94" letter-spacing="2.221" fill="#2b2624" >ACSF</text>
<text x="930.57" y="910.00" font-size="32.65" letter-spacing="8.977" fill="#2b2624" >TCN237</text>
<text x="931.16" y="945.60" font-size="32.27" letter-spacing="8.452" fill="#2b2624" >Wash</text>
<text x="689.42" y="894.80" font-size="92.23" letter-spacing="0.000" fill="#2b2624" >C</text>
<text x="806.26" y="871.90" font-size="37.81" letter-spacing="2.062" fill="#050505" >30</text>
<text x="808.36" y="1019.00" font-size="38.67" letter-spacing="3.044" fill="#050505" >20</text>
<text x="805.75" y="1165.00" font-size="38.67" letter-spacing="1.045" fill="#050505" >10</text>
<text x="832.96" y="1310.60" font-size="39.53" letter-spacing="0.000" fill="#050505" >0</text>
<text x="916.64" y="1344.40" font-size="44.54" letter-spacing="2.727" fill="#2b2624" >Control</text>
<text x="1174.20" y="1342.20" font-size="45.35" letter-spacing="10.372" fill="#2b2624" >VPA</text>
<text transform="translate(786.90,1277.62) rotate(-90)" x="0" y="0" font-size="39.24" letter-spacing="0.985" fill="#2b2624" >Half-width of N1(ms)</text>
<text x="1143.63" y="871.80" font-size="37.71" letter-spacing="0.000" fill="#2b2624" >#</text>
<text x="1212.03" y="864.70" font-size="37.71" letter-spacing="0.000" fill="#2b2624" >#</text>
<rect x="235.35" y="1680.85" width="57.20" height="170.35" fill="#ecedef" stroke="#2b2624" stroke-width="6.3"/>
<rect x="311.15" y="1680.85" width="56.90" height="170.35" fill="#8c8c8c" stroke="#2b2624" stroke-width="6.3"/>
<rect x="382.35" y="1680.85" width="62.30" height="170.35" fill="#dddfde" stroke="#2b2624" stroke-width="6.3"/>
<rect x="458.15" y="1601.15" width="61.90" height="250.05" fill="#ecedef" stroke="#2b2624" stroke-width="6.3"/>
<rect x="534.05" y="1595.85" width="61.80" height="255.35" fill="#8c8c8c" stroke="#2b2624" stroke-width="6.3"/>
<rect x="610.45" y="1601.15" width="61.30" height="250.05" fill="#dddfde" stroke="#2b2624" stroke-width="6.3"/>
<rect x="215.2" y="1409.9" width="6.50" height="441.30" fill="#2b2624"/>
<rect x="203" y="1848.00" width="487.60" height="6.4" fill="#2b2624"/>
<rect x="203" y="1407.10" width="18.70" height="5.6" fill="#2b2624"/>
<rect x="203" y="1552.40" width="18.70" height="5.6" fill="#2b2624"/>
<rect x="203" y="1703.20" width="18.70" height="5.6" fill="#2b2624"/>
<rect x="261.30" y="1668.00" width="6.4" height="24.00" fill="#2b2624"/>
<rect x="259.00" y="1668.00" width="11" height="5.4" fill="#2b2624"/>
<rect x="259.00" y="1686.60" width="11" height="5.4" fill="#2b2624"/>
<rect x="336.30" y="1668.00" width="6.4" height="24.00" fill="#2b2624"/>
<rect x="334.00" y="1668.00" width="11" height="5.4" fill="#2b2624"/>
<rect x="334.00" y="1686.60" width="11" height="5.4" fill="#2b2624"/>
<rect x="412.90" y="1665.00" width="6.4" height="31.00" fill="#2b2624"/>
<rect x="410.60" y="1665.00" width="11" height="5.4" fill="#2b2624"/>
<rect x="410.60" y="1690.60" width="11" height="5.4" fill="#2b2624"/>
<rect x="488.00" y="1588.00" width="6.4" height="25.60" fill="#2b2624"/>
<rect x="485.70" y="1588.00" width="11" height="5.4" fill="#2b2624"/>
<rect x="485.70" y="1608.20" width="11" height="5.4" fill="#2b2624"/>
<rect x="560.60" y="1585.60" width="6.4" height="23.10" fill="#2b2624"/>
<rect x="558.30" y="1585.60" width="11" height="5.4" fill="#2b2624"/>
<rect x="558.30" y="1603.30" width="11" height="5.4" fill="#2b2624"/>
<rect x="637.90" y="1583.00" width="6.4" height="34.60" fill="#2b2624"/>
<rect x="635.60" y="1583.00" width="11" height="5.4" fill="#2b2624"/>
<rect x="635.60" y="1612.20" width="11" height="5.4" fill="#2b2624"/>
<circle cx="264.5" cy="1671.8" r="6.8" fill="#505050"/>
<circle cx="264.5" cy="1619.0" r="6.8" fill="#ec3b3f"/>
<circle cx="264.5" cy="1727.1" r="6.8" fill="#52ba6e"/>
<circle cx="264.5" cy="1698.2" r="6.8" fill="#c9a02d"/>
<circle cx="264.5" cy="1663.6" r="6.8" fill="#5fe3d3"/>
<circle cx="264.5" cy="1678.6" r="6.8" fill="#3f78e6"/>
<circle cx="264.5" cy="1624.9" r="6.8" fill="#b07ae8"/>
<circle cx="264.5" cy="1737.4" r="6.8" fill="#7a4a4c"/>
<circle cx="339.5" cy="1680.3" r="6.8" fill="#505050"/>
<circle cx="339.5" cy="1623.2" r="6.8" fill="#ec3b3f"/>
<circle cx="339.5" cy="1731.4" r="6.8" fill="#52ba6e"/>
<circle cx="339.5" cy="1693.1" r="6.8" fill="#c9a02d"/>
<circle cx="339.5" cy="1668.4" r="6.8" fill="#5fe3d3"/>
<circle cx="339.5" cy="1674.3" r="6.8" fill="#3f78e6"/>
<circle cx="339.5" cy="1630.0" r="6.8" fill="#b07ae8"/>
<circle cx="339.5" cy="1742.1" r="6.8" fill="#7a4a4c"/>
<circle cx="416.1" cy="1623.2" r="6.8" fill="#ec3b3f"/>
<circle cx="416.1" cy="1727.1" r="6.8" fill="#52ba6e"/>
<circle cx="416.1" cy="1698.2" r="6.8" fill="#c9a02d"/>
<circle cx="416.1" cy="1658.7" r="6.8" fill="#5fe3d3"/>
<circle cx="416.1" cy="1678.6" r="6.8" fill="#3f78e6"/>
<circle cx="416.1" cy="1630.0" r="6.8" fill="#b07ae8"/>
<circle cx="416.1" cy="1742.1" r="6.8" fill="#7a4a4c"/>
<circle cx="491.2" cy="1585.6" r="6.8" fill="#ec3b3f"/>
<circle cx="491.2" cy="1604.8" r="6.8" fill="#52ba6e"/>
<circle cx="491.2" cy="1526.5" r="6.8" fill="#c9a02d"/>
<circle cx="491.2" cy="1619.9" r="6.8" fill="#5fe3d3"/>
<circle cx="491.2" cy="1643.3" r="6.8" fill="#3f78e6"/>
<circle cx="491.2" cy="1654.0" r="6.8" fill="#b07ae8"/>
<circle cx="491.2" cy="1570.8" r="6.8" fill="#7a4a4c"/>
<circle cx="563.8" cy="1580.2" r="6.8" fill="#ec3b3f"/>
<circle cx="563.8" cy="1599.8" r="6.8" fill="#52ba6e"/>
<circle cx="563.8" cy="1516.8" r="6.8" fill="#c9a02d"/>
<circle cx="563.8" cy="1614.9" r="6.8" fill="#5fe3d3"/>
<circle cx="563.8" cy="1654.0" r="6.8" fill="#3f78e6"/>
<circle cx="563.8" cy="1663.8" r="6.8" fill="#b07ae8"/>
<circle cx="563.8" cy="1566.0" r="6.8" fill="#7a4a4c"/>
<circle cx="641.1" cy="1583.8" r="6.8" fill="#505050"/>
<circle cx="641.1" cy="1577.6" r="6.8" fill="#ec3b3f"/>
<circle cx="641.1" cy="1599.8" r="6.8" fill="#52ba6e"/>
<circle cx="641.1" cy="1521.6" r="6.8" fill="#c9a02d"/>
<circle cx="641.1" cy="1624.7" r="6.8" fill="#5fe3d3"/>
<circle cx="641.1" cy="1648.7" r="6.8" fill="#3f78e6"/>
<circle cx="641.1" cy="1658.8" r="6.8" fill="#b07ae8"/>
<circle cx="641.1" cy="1570.4" r="6.8" fill="#7a4a4c"/>
<rect x="238.80" y="1412.50" width="26.90" height="11.30" fill="#eceeee" stroke="#231f20" stroke-width="3.6"/>
<rect x="238.80" y="1446.50" width="26.90" height="11.60" fill="#6b6b6b" stroke="#231f20" stroke-width="3.6"/>
<rect x="238.80" y="1482.00" width="26.90" height="11.30" fill="#e4e6e6" stroke="#231f20" stroke-width="3.6"/>
<text x="274.34" y="1427.70" font-size="32.65" letter-spacing="1.695" fill="#2b2624" >ACSF</text>
<text x="273.67" y="1467.10" font-size="32.65" letter-spacing="8.937" fill="#2b2624" >TCN237</text>
<text x="274.25" y="1502.40" font-size="33.87" letter-spacing="7.193" fill="#2b2624" >Wash</text>
<text x="11.39" y="1436.90" font-size="92.73" letter-spacing="0.000" fill="#2b2624" >D</text>
<text x="133.67" y="1428.40" font-size="39.10" letter-spacing="2.014" fill="#050505" >0.9</text>
<text x="133.08" y="1575.20" font-size="38.81" letter-spacing="2.034" fill="#050505" >0.6</text>
<text x="134.47" y="1722.10" font-size="39.10" letter-spacing="1.547" fill="#050505" >0.3</text>
<text x="168.08" y="1862.70" font-size="38.81" letter-spacing="0.000" fill="#050505" >0</text>
<text x="261.59" y="1901.70" font-size="45.40" letter-spacing="1.948" fill="#2b2624" >Control</text>
<text x="518.80" y="1898.40" font-size="44.77" letter-spacing="10.352" fill="#2b2624" >VPA</text>
<text transform="translate(113.70,1786.08) rotate(-90)" x="0" y="0" font-size="40.24" letter-spacing="-0.105" fill="#2b2624" >Amp. of N2 (mV)</text>
<text x="480.93" y="1510.50" font-size="37.86" letter-spacing="0.000" fill="#2b2624" >#</text>
<text x="552.63" y="1496.70" font-size="37.71" letter-spacing="0.000" fill="#2b2624" >#</text>
<rect x="888.75" y="1647.55" width="57.60" height="201.15" fill="#ffffff" stroke="#2b2624" stroke-width="6.3"/>
<rect x="965.25" y="1652.95" width="58.00" height="195.75" fill="#8c8c8c" stroke="#2b2624" stroke-width="6.3"/>
<rect x="1037.05" y="1643.15" width="63.00" height="205.55" fill="#ecedef" stroke="#2b2624" stroke-width="6.3"/>
<rect x="1114.55" y="1588.05" width="61.60" height="260.65" fill="#ffffff" stroke="#2b2624" stroke-width="6.3"/>
<rect x="1190.45" y="1593.05" width="63.10" height="255.65" fill="#8c8c8c" stroke="#2b2624" stroke-width="6.3"/>
<rect x="1267.85" y="1593.05" width="61.80" height="255.65" fill="#ecedef" stroke="#2b2624" stroke-width="6.3"/>
<rect x="871.3" y="1407.5" width="7.10" height="441.20" fill="#2b2624"/>
<rect x="859.1" y="1845.40" width="486.40" height="6.6" fill="#2b2624"/>
<rect x="859" y="1404.70" width="19.40" height="5.6" fill="#2b2624"/>
<rect x="859" y="1550.20" width="19.40" height="5.6" fill="#2b2624"/>
<rect x="859" y="1700.70" width="19.40" height="5.6" fill="#2b2624"/>
<rect x="914.80" y="1628.00" width="6.4" height="36.00" fill="#2b2624"/>
<rect x="912.50" y="1628.00" width="11" height="5.4" fill="#2b2624"/>
<rect x="912.50" y="1658.60" width="11" height="5.4" fill="#2b2624"/>
<rect x="990.70" y="1632.00" width="6.4" height="32.00" fill="#2b2624"/>
<rect x="988.40" y="1632.00" width="11" height="5.4" fill="#2b2624"/>
<rect x="988.40" y="1658.60" width="11" height="5.4" fill="#2b2624"/>
<rect x="1067.30" y="1630.20" width="6.4" height="25.80" fill="#2b2624"/>
<rect x="1065.00" y="1630.20" width="11" height="5.4" fill="#2b2624"/>
<rect x="1065.00" y="1650.60" width="11" height="5.4" fill="#2b2624"/>
<rect x="1144.50" y="1568.90" width="6.4" height="42.70" fill="#2b2624"/>
<rect x="1142.20" y="1568.90" width="11" height="5.4" fill="#2b2624"/>
<rect x="1142.20" y="1606.20" width="11" height="5.4" fill="#2b2624"/>
<rect x="1216.70" y="1575.10" width="6.4" height="29.30" fill="#2b2624"/>
<rect x="1214.40" y="1575.10" width="11" height="5.4" fill="#2b2624"/>
<rect x="1214.40" y="1599.00" width="11" height="5.4" fill="#2b2624"/>
<rect x="1293.50" y="1575.10" width="6.4" height="29.30" fill="#2b2624"/>
<rect x="1291.20" y="1575.10" width="11" height="5.4" fill="#2b2624"/>
<rect x="1291.20" y="1599.00" width="11" height="5.4" fill="#2b2624"/>
<circle cx="918.0" cy="1578.1" r="6.6" fill="#ec3b3f"/>
<circle cx="918.0" cy="1632.5" r="6.6" fill="#52ba6e"/>
<circle cx="918.0" cy="1608.0" r="6.6" fill="#c9a02d"/>
<circle cx="918.0" cy="1685.3" r="6.6" fill="#5fe3d3"/>
<circle cx="918.0" cy="1662.8" r="6.6" fill="#3f78e6"/>
<circle cx="918.0" cy="1656.9" r="6.6" fill="#b07ae8"/>
<circle cx="918.0" cy="1691.6" r="6.6" fill="#7a4a4c"/>
<circle cx="993.9" cy="1663.1" r="6.6" fill="#505050"/>
<circle cx="993.9" cy="1583.1" r="6.6" fill="#ec3b3f"/>
<circle cx="993.9" cy="1637.3" r="6.6" fill="#52ba6e"/>
<circle cx="993.9" cy="1612.4" r="6.6" fill="#c9a02d"/>
<circle cx="993.9" cy="1692.4" r="6.6" fill="#5fe3d3"/>
<circle cx="993.9" cy="1657.4" r="6.6" fill="#b07ae8"/>
<circle cx="993.9" cy="1686.6" r="6.6" fill="#7a4a4c"/>
<circle cx="1070.5" cy="1667.6" r="6.6" fill="#505050"/>
<circle cx="1070.5" cy="1583.1" r="6.6" fill="#ec3b3f"/>
<circle cx="1070.5" cy="1637.3" r="6.6" fill="#52ba6e"/>
<circle cx="1070.5" cy="1612.4" r="6.6" fill="#c9a02d"/>
<circle cx="1070.5" cy="1693.3" r="6.6" fill="#5fe3d3"/>
<circle cx="1070.5" cy="1662.2" r="6.6" fill="#3f78e6"/>
<circle cx="1070.5" cy="1652.1" r="6.6" fill="#b07ae8"/>
<circle cx="1070.5" cy="1686.6" r="6.6" fill="#7a4a4c"/>
<circle cx="1147.7" cy="1542.2" r="6.6" fill="#ec3b3f"/>
<circle cx="1147.7" cy="1616.9" r="6.6" fill="#52ba6e"/>
<circle cx="1147.7" cy="1548.4" r="6.6" fill="#c9a02d"/>
<circle cx="1147.7" cy="1652.4" r="6.6" fill="#5fe3d3"/>
<circle cx="1147.7" cy="1587.9" r="6.6" fill="#3f78e6"/>
<circle cx="1147.7" cy="1623.1" r="6.6" fill="#b07ae8"/>
<circle cx="1147.7" cy="1537.8" r="6.6" fill="#7a4a4c"/>
<circle cx="1219.9" cy="1593.8" r="6.6" fill="#505050"/>
<circle cx="1219.9" cy="1544.0" r="6.6" fill="#ec3b3f"/>
<circle cx="1219.9" cy="1612.4" r="6.6" fill="#52ba6e"/>
<circle cx="1219.9" cy="1558.8" r="6.6" fill="#c9a02d"/>
<circle cx="1219.9" cy="1657.2" r="6.6" fill="#5fe3d3"/>
<circle cx="1219.9" cy="1583.1" r="6.6" fill="#3f78e6"/>
<circle cx="1219.9" cy="1622.8" r="6.6" fill="#b07ae8"/>
<circle cx="1219.9" cy="1538.7" r="6.6" fill="#7a4a4c"/>
<circle cx="1296.7" cy="1593.8" r="6.6" fill="#505050"/>
<circle cx="1296.7" cy="1537.8" r="6.6" fill="#ec3b3f"/>
<circle cx="1296.7" cy="1612.4" r="6.6" fill="#52ba6e"/>
<circle cx="1296.7" cy="1553.4" r="6.6" fill="#c9a02d"/>
<circle cx="1296.7" cy="1657.2" r="6.6" fill="#5fe3d3"/>
<circle cx="1296.7" cy="1583.1" r="6.6" fill="#3f78e6"/>
<circle cx="1296.7" cy="1622.8" r="6.6" fill="#b07ae8"/>
<circle cx="1296.7" cy="1543.6" r="6.6" fill="#7a4a4c"/>
<rect x="894.90" y="1410.30" width="27.80" height="11.20" fill="#eceeee" stroke="#231f20" stroke-width="3.6"/>
<rect x="894.90" y="1444.40" width="27.80" height="11.40" fill="#6b6b6b" stroke="#231f20" stroke-width="3.6"/>
<rect x="894.90" y="1480.00" width="27.80" height="11.40" fill="#e4e6e6" stroke="#231f20" stroke-width="3.6"/>
<text x="930.24" y="1424.70" font-size="32.37" letter-spacing="2.179" fill="#2b2624" >ACSF</text>
<text x="929.55" y="1464.40" font-size="33.23" letter-spacing="8.759" fill="#2b2624" >TCN237</text>
<text x="930.15" y="1499.80" font-size="34.16" letter-spacing="7.219" fill="#2b2624" >Wash</text>
<text x="689.51" y="1447.80" font-size="91.28" letter-spacing="0.000" fill="#2b2624" >E</text>
<text x="806.49" y="1426.00" font-size="38.67" letter-spacing="1.012" fill="#050505" >90</text>
<text x="808.22" y="1573.00" font-size="38.95" letter-spacing="2.870" fill="#050505" >60</text>
<text x="805.02" y="1719.70" font-size="38.95" letter-spacing="1.476" fill="#050505" >30</text>
<text x="832.99" y="1864.10" font-size="38.67" letter-spacing="0.000" fill="#050505" >0</text>
<text x="917.50" y="1897.60" font-size="45.26" letter-spacing="2.339" fill="#2b2624" >Control</text>
<text x="1174.50" y="1895.30" font-size="44.62" letter-spacing="10.397" fill="#2b2624" >VPA</text>
<text transform="translate(788.40,1819.68) rotate(-90)" x="0" y="0" font-size="40.24" letter-spacing="-0.146" fill="#2b2624" >AUC of N2 (mV.ms)</text>
<text x="1136.83" y="1523.60" font-size="39.03" letter-spacing="0.000" fill="#2b2624" >#</text>
<text x="1208.53" y="1524.40" font-size="37.57" letter-spacing="0.000" fill="#2b2624" >#</text>
</svg>
</body></html>
